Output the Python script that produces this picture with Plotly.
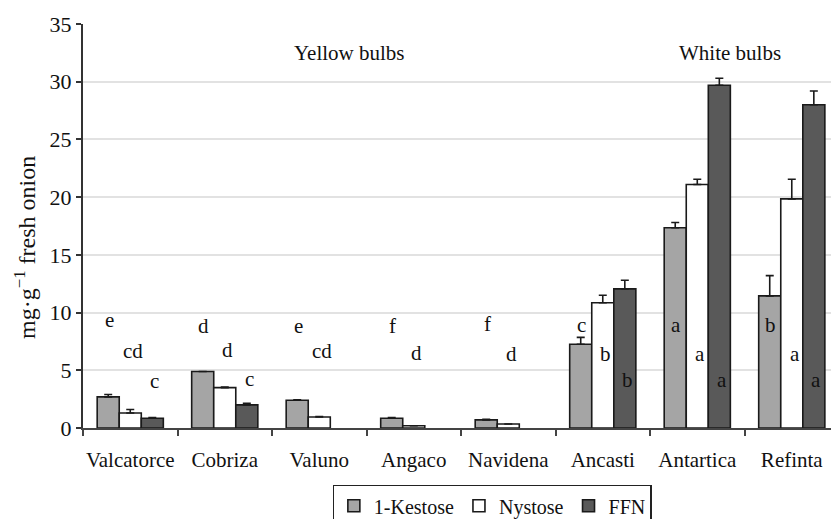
import plotly.graph_objects as go

cultivars = ["Valcatorce", "Cobriza", "Valuno", "Angaco", "Navidena",
             "Ancasti", "Antartica", "Refinta"]

kestose = [2.7, 4.9, 2.4, 0.85, 0.7, 7.25, 17.35, 11.45]
kestose_err = [0.2, 0.0, 0.05, 0.05, 0.05, 0.6, 0.45, 1.75]

nystose = [1.3, 3.5, 0.95, 0.2, 0.35, 10.85, 21.1, 19.85]
nystose_err = [0.3, 0.05, 0.05, 0.0, 0.0, 0.65, 0.45, 1.7]

# no FFN detected in Valuno, Angaco and Navidena
ffn = [0.85, 2.0, None, None, None, 12.05, 29.7, 28.0]
ffn_err = [0.05, 0.15, 0.0, 0.0, 0.0, 0.75, 0.6, 1.2]

# significance letters: (series index, letter, height)
letters = [
    [(0, "e", 9.35), (1, "cd", 6.7), (2, "c", 4.1)],
    [(0, "d", 8.8), (1, "d", 6.8), (2, "c", 4.25)],
    [(0, "e", 8.85), (1, "cd", 6.7)],
    [(0, "f", 8.85), (1, "d", 6.5)],
    [(0, "f", 9.0), (1, "d", 6.45)],
    [(0, "c", 8.9), (1, "b", 6.45), (2, "b", 4.2)],
    [(0, "a", 8.9), (1, "a", 6.45), (2, "a", 4.2)],
    [(0, "b", 8.9), (1, "a", 6.45), (2, "a", 4.2)],
]
letter_offsets = [-0.22, 0.03, 0.26]

series = [
    ("1-Kestose", kestose, kestose_err, "#a5a5a5"),
    ("Nystose", nystose, nystose_err, "#ffffff"),
    ("FFN", ffn, ffn_err, "#595959"),
]

serif = "Times New Roman, Liberation Serif, serif"
ink = "#111111"

fig = go.Figure()
for name, vals, errs, color in series:
    fig.add_trace(go.Bar(
        name=name, x=cultivars, y=vals,
        marker=dict(color=color, line=dict(color="#1a1a1a", width=1.6)),
        error_y=dict(type="data", array=errs, arrayminus=[0] * len(errs),
                     symmetric=False, color="#1a1a1a", thickness=1.6, width=4),
    ))

annotations = []
for i, group in enumerate(letters):
    for s, txt, h in group:
        annotations.append(dict(
            x=i + letter_offsets[s], y=h, xref="x", yref="y", text=txt,
            showarrow=False, font=dict(family=serif, size=21, color=ink),
        ))

annotations += [
    dict(x=2.31, y=32.5, xref="x", yref="y", text="Yellow bulbs",
         showarrow=False, font=dict(family=serif, size=21, color=ink)),
    dict(x=6.35, y=32.5, xref="x", yref="y", text="White bulbs",
         showarrow=False, font=dict(family=serif, size=21, color=ink)),
    dict(x=(25 - 83) / (831 - 83), y=(428 - 248) / (428 - 24),
         xref="paper", yref="paper", xanchor="center", yanchor="middle",
         text="mg·g<sup>−1</sup> fresh onion",
         showarrow=False, textangle=-90,
         font=dict(family=serif, size=24, color=ink)),
]

fig.update_layout(
    width=831, height=519,
    margin=dict(l=83, r=0, t=24, b=91, autoexpand=False),
    paper_bgcolor="white", plot_bgcolor="white",
    barmode="group", bargap=0.30, bargroupgap=0,
    font=dict(family=serif, size=21, color=ink),
    showlegend=True,
    legend=dict(orientation="h", x=0.547, xanchor="center",
                y=(519 - 485) / 519, yanchor="top", yref="container",
                bordercolor="#222", borderwidth=1.2, bgcolor="white",
                font=dict(family=serif, size=20, color=ink),
                traceorder="normal"),
    annotations=annotations,
    xaxis=dict(
        type="category", range=[-0.5, 7.415],
        showline=True, linecolor="#444", linewidth=2,
        ticks="outside", tickson="boundaries", ticklen=6, tickwidth=2,
        tickcolor="#444", showgrid=False, tickangle=0,
        tickfont=dict(family=serif, size=21, color=ink),
        ticklabelstandoff=12,
    ),
    yaxis=dict(
        range=[0, 35], dtick=5, showline=True, linecolor="#333", linewidth=2,
        ticks="outside", ticklen=5, tickwidth=2, tickcolor="#333",
        showgrid=True, gridcolor="#e2e2e2", gridwidth=2,
        zeroline=False,
        tickfont=dict(family=serif, size=22, color=ink),
    ),
)

fig.write_html("out.html")
